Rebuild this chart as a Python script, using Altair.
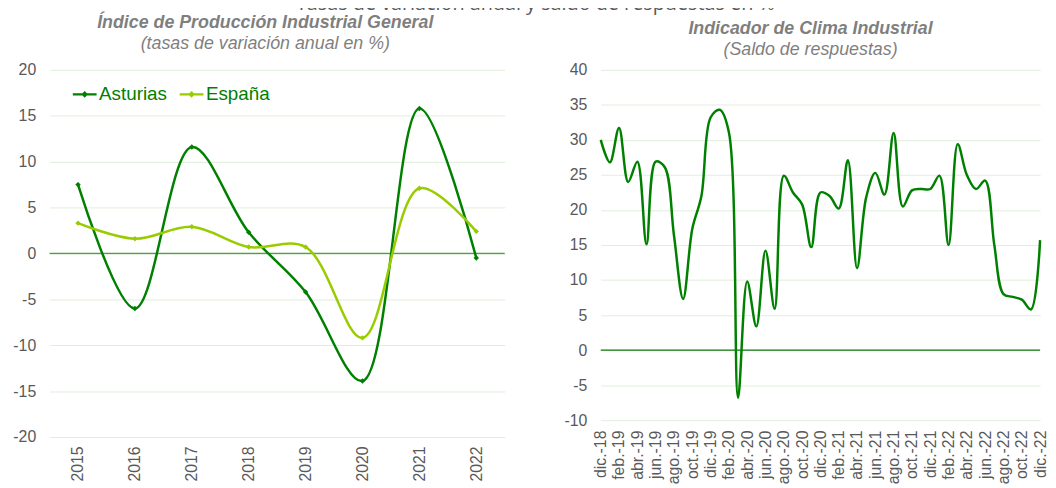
import altair as alt
import pandas as pd

# ---------------- data ----------------
years = ["2015", "2016", "2017", "2018", "2019", "2020", "2021", "2022"]
asturias = [7.5, -6.0, 11.6, 2.3, -4.2, -13.9, 15.8, -0.5]
espana = [3.3, 1.6, 2.9, 0.7, 0.7, -9.2, 7.1, 2.4]
series_names = ["Asturias", "España"]
series_colors = ["#008000", "#99cc00"]

meses = [
    "dic.-18",
    "ene.-19", "feb.-19", "mar.-19", "abr.-19", "may.-19", "jun.-19",
    "jul.-19", "ago.-19", "sep.-19", "oct.-19", "nov.-19", "dic.-19",
    "ene.-20", "feb.-20", "mar.-20", "abr.-20", "may.-20", "jun.-20",
    "jul.-20", "ago.-20", "sep.-20", "oct.-20", "nov.-20", "dic.-20",
    "ene.-21", "feb.-21", "mar.-21", "abr.-21", "may.-21", "jun.-21",
    "jul.-21", "ago.-21", "sep.-21", "oct.-21", "nov.-21", "dic.-21",
    "ene.-22", "feb.-22", "mar.-22", "abr.-22", "may.-22", "jun.-22",
    "jul.-22", "ago.-22", "sep.-22", "oct.-22", "nov.-22", "dic.-22",
]
clima = [
    30.0,
    26.8, 31.7, 24.0, 26.9, 15.1, 26.9,
    26.1, 16.4, 7.3, 17.3, 22.0, 33.2,
    34.3, 31.1, -6.8, 9.8, 3.4, 14.2,
    5.9, 24.9, 22.5, 20.8, 14.7, 22.5,
    22.0, 20.2, 27.1, 11.7, 21.8, 25.3,
    22.2, 31.0, 20.5, 22.8, 23.0, 23.0,
    24.9, 15.0, 29.4, 25.0, 23.0, 24.2,
    15.0, 8.0, 7.6, 7.2, 5.8, 15.7,
]
mes_labels = meses[::2]
left_ticks = [-20, -15, -10, -5, 0, 5, 10, 15, 20]
right_ticks = [-10, -5, 0, 5, 10, 15, 20, 25, 30, 35, 40]

main_title = "Tasas de variación anual y saldo de respuestas en %"

# ---------------- styling ----------------
FONT = "Liberation Sans"
GRID = "#e1eedb"
LABEL = "#595959"
TITLE = "#7f7f7f"
HYPHEN = "replace(datum.label, '\u2212', '-')"

ipi = pd.DataFrame({
    "Año": years * 2,
    "Serie": [series_names[0]] * len(years) + [series_names[1]] * len(years),
    "Valor": asturias + espana,
})
clima_df = pd.DataFrame({"Mes": meses, "Saldo": clima})
zero_df = pd.DataFrame({"v": [0]})

left_y_axis = alt.Axis(title=None, values=left_ticks, grid=True,
                       labelPadding=14, labelExpr=HYPHEN)
right_y_axis = alt.Axis(title=None, values=right_ticks, grid=True,
                        labelPadding=14, labelExpr=HYPHEN)

# ---------------- left panel ----------------
left_lines = alt.Chart(ipi).mark_line(
    interpolate="catmull-rom",
    strokeWidth=2.5,
    point=alt.OverlayMarkDef(shape="diamond", size=30, filled=True),
).encode(
    x=alt.X("Año:O", sort=years,
            scale=alt.Scale(type="point", padding=0.5),
            axis=alt.Axis(title=None, labelAngle=-90, labelAlign="right",
                          labelBaseline="middle", labelPadding=9, grid=False,
                          labelOverlap=False)),
    y=alt.Y("Valor:Q", scale=alt.Scale(domain=[-20, 20], nice=False),
            axis=left_y_axis),
    color=alt.Color("Serie:N", sort=series_names,
                    scale=alt.Scale(domain=series_names, range=series_colors),
                    legend=alt.Legend(
                        orient="none", legendX=22, legendY=11,
                        direction="horizontal", title=None,
                        labelFont=FONT, labelFontSize=19, labelColor="#008000",
                        symbolType="M-1,0L1,0M0,-0.15L0.15,0L0,0.15L-0.15,0Z",
                        symbolSize=576, symbolStrokeWidth=2.2,
                        labelOffset=1, columnPadding=8)),
)
left_zero = alt.Chart(zero_df).mark_rule(color="#46a346", strokeWidth=1.3).encode(
    y=alt.Y("v:Q", scale=alt.Scale(domain=[-20, 20], nice=False),
            axis=left_y_axis))

left = alt.layer(left_zero, left_lines).properties(
    width=460, height=371,
    title=alt.TitleParams(
        text="Índice de Producción Industrial General",
        subtitle="(tasas de variación anual en %)",
        font=FONT, fontSize=18, fontStyle="italic", fontWeight="bold",
        color=TITLE, subtitleFont=FONT, subtitleFontSize=18,
        subtitleFontStyle="italic", subtitleColor=TITLE,
        subtitlePadding=3, anchor="middle", dx=-12, offset=9),
)

# ---------------- right panel ----------------
right_line = alt.Chart(clima_df).mark_line(
    interpolate="catmull-rom", color="#008000", strokeWidth=2.5
).encode(
    x=alt.X("Mes:O", sort=meses,
            scale=alt.Scale(type="point", padding=0),
            axis=alt.Axis(title=None, values=mes_labels, labelAngle=-90,
                          labelAlign="right", labelBaseline="middle",
                          labelPadding=10, grid=False, labelOverlap=False)),
    y=alt.Y("Saldo:Q", scale=alt.Scale(domain=[-10, 40], nice=False),
            axis=right_y_axis),
)
right_zero = alt.Chart(zero_df).mark_rule(color="#107810", strokeWidth=1.3).encode(
    y=alt.Y("v:Q", scale=alt.Scale(domain=[-10, 40], nice=False),
            axis=right_y_axis))

right = alt.layer(right_zero, right_line).properties(
    width=444, height=354,
    title=alt.TitleParams(
        text="Indicador de Clima Industrial",
        subtitle="(Saldo de respuestas)",
        font=FONT, fontSize=18, fontStyle="italic", fontWeight="bold",
        color=TITLE, subtitleFont=FONT, subtitleFontSize=18,
        subtitleFontStyle="italic", subtitleColor=TITLE,
        subtitlePadding=3, anchor="middle", dx=-10, offset=3),
)

chart = alt.hconcat(left, right, spacing=58).properties(
    title=alt.TitleParams(text=main_title, font="Open Sans", fontSize=20,
                          fontWeight="normal", color=LABEL, anchor="middle",
                          dx=5, offset=1),
    padding={"top": -17, "left": 4, "right": 0, "bottom": 0},
).configure_view(stroke=None).configure_axis(
    domain=False, ticks=False, tickSize=0, gridColor=GRID, gridWidth=1,
    labelFont=FONT, labelFontSize=16, labelColor=LABEL,
)

chart.save("out.html", embed_options={"renderer": "svg", "actions": False})
